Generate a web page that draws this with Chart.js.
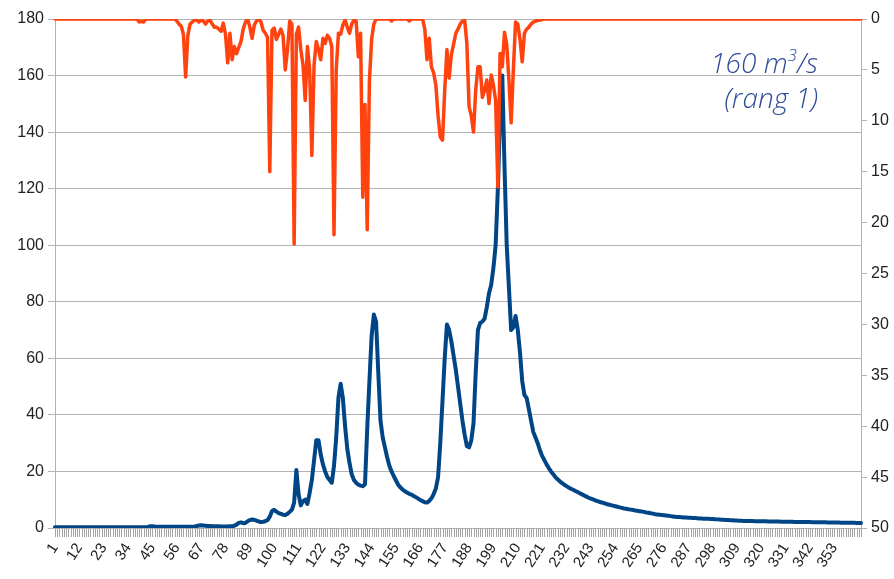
<!DOCTYPE html>
<html>
<head>
<meta charset="utf-8">
<script src="https://cdn.jsdelivr.net/npm/chart.js@4/dist/chart.umd.min.js"></script>
<style>
  html, body { margin: 0; padding: 0; background: #ffffff; }
  #wrap { width: 894px; height: 579px; position: relative; }
</style>
</head>
<body>
<div id="wrap"><canvas id="c" width="894" height="579"></canvas></div>
<script>
// Day numbers (categories) 1..365
const days = Array.from({length: 365}, (_, i) => String(i + 1));

// Shown x tick labels (every 11th day)
const xTickLabels = ['1','12','23','34','45','56','67','78','89','100','111','122','133','144','155','166','177','188','199','210','221','232','243','254','265','276','287','298','309','320','331','342','353'];

// Discharge (m3/s), left axis — one value per day
const discharge = [
  0.3,0.3,0.3,0.3,0.3,0.3,0.3,0.3,0.3,0.3,
  0.3,0.3,0.3,0.3,0.3,0.3,0.3,0.3,0.3,0.3,
  0.3,0.3,0.3,0.3,0.3,0.3,0.3,0.3,0.3,0.3,
  0.3,0.3,0.3,0.3,0.3,0.3,0.3,0.3,0.3,0.3,
  0.3,0.3,0.4,0.6,0.6,0.5,0.4,0.4,0.4,0.4,
  0.4,0.4,0.4,0.4,0.4,0.4,0.4,0.4,0.4,0.4,
  0.4,0.4,0.4,0.5,0.7,0.9,1.0,0.9,0.8,0.7,
  0.7,0.6,0.6,0.6,0.6,0.5,0.5,0.5,0.5,0.6,
  0.6,0.8,1.2,1.8,2.0,1.7,1.8,2.4,2.8,3.0,
  2.9,2.6,2.3,2.1,2.2,2.4,2.8,4.0,6.0,6.4,
  5.8,5.3,5.0,4.7,4.6,5.0,5.7,6.5,9,20.5,
  12,8,9.5,10,8.5,12.4,17,24,31,31,
  26,22.5,20,18,17,16,22,32,46,51,
  46,36,28,23,19,17,16,15.3,15,14.8,
  15.5,35,52,68,75.5,73,55,38,32,28.5,
  25,22,20,18.3,16.8,15.3,14.3,13.6,13,12.5,
  12.1,11.8,11.3,10.9,10.4,9.9,9.5,9.1,9.0,9.6,
  10.5,12,14,18,30,45,60,72,70,66,
  61,56,50,44,38,33,29,28.5,31,37,
  55,70,72.5,73,74,78,83,86,92,100,
  120,145,160,128,100,85,70,71,75,70,
  62,52,47,46,42,38,34,32,30,27.5,
  25.5,24,22.5,21.2,20,19,18,17.2,16.5,15.9,
  15.3,14.8,14.3,13.9,13.5,13.1,12.7,12.3,11.9,11.5,
  11.1,10.7,10.4,10.1,9.8,9.5,9.2,9.0,8.8,8.5,
  8.3,8.1,7.9,7.7,7.5,7.3,7.1,6.9,6.8,6.6,
  6.5,6.4,6.2,6.1,5.9,5.8,5.7,5.5,5.4,5.2,
  5.1,4.9,4.8,4.7,4.6,4.5,4.4,4.3,4.2,4.1,
  4.0,3.9,3.85,3.8,3.75,3.7,3.65,3.6,3.55,3.5,
  3.45,3.4,3.35,3.3,3.27,3.24,3.2,3.15,3.1,3.05,
  3.0,2.95,2.9,2.85,2.8,2.76,2.72,2.68,2.64,2.6,
  2.55,2.5,2.49,2.47,2.46,2.44,2.43,2.41,2.4,2.38,
  2.37,2.35,2.34,2.32,2.31,2.29,2.28,2.26,2.25,2.23,
  2.22,2.2,2.19,2.17,2.16,2.14,2.13,2.11,2.1,2.1,
  2.09,2.08,2.07,2.05,2.04,2.03,2.01,2.0,1.99,1.98,
  1.96,1.95,1.94,1.92,1.91,1.9,1.88,1.87,1.86,1.84,
  1.83,1.82,1.81,1.8,1.8
];

// Precipitation (mm), right reversed axis — one value per day
const precipitation = [
  0,0,0,0,0,0,0,0,0,0,
  0,0,0,0,0,0,0,0,0,0,
  0,0,0,0,0,0,0,0,0,0,
  0,0,0,0,0,0,0,0,0.3,0.2,
  0.3,0,0,0,0,0,0,0,0,0,
  0,0,0,0,0,0.2,0.5,0.7,1.5,5.7,
  1.6,0.5,0.3,0.1,0.1,0.3,0.1,0.2,0.5,0.2,
  0.1,0.5,0.8,0.8,1.0,1.2,0.4,1.5,4.3,1.4,
  4.0,2.7,3.4,2.8,2.2,1.0,0.3,0,0.8,1.9,
  0.6,0.2,0,0.3,1.1,1.4,1.8,15,1.1,0.9,
  2.0,1.5,1.0,1.6,5.0,3.0,0.2,0.5,22.1,1.5,
  0.8,3.0,4.5,8,2.7,5,13.4,4.5,2.2,3,
  4.0,1.9,2.4,1.6,1.9,2.7,21.2,5,1.4,1.5,
  0.6,0.1,0.8,1.4,0.5,0.1,0.2,3.7,1.4,17.5,
  8.4,20.7,6,2.0,0.5,0,0,0,0,0,
  0,0,0.2,0,0,0,0,0,0,0,
  0.2,0,0,0,0,0,0,1.0,4.0,1.9,
  4.7,5.3,6.5,9.5,11.6,11.9,7,3.0,5.8,3.5,
  2.5,1.4,1.0,0.5,0.2,0.1,2.4,8.6,9.5,11.1,
  7,4.7,4.7,7.7,7.0,6.0,8.3,5.5,6.5,8.0,
  16.5,3.4,4.7,1.3,2.5,6,10.2,5,0.3,0.5,
  2.0,4.2,1.4,1.0,0.8,0.5,0.3,0.2,0.15,0.1,
  0.05,0,0,0,0,0,0,0,0,0,
  0,0,0,0,0,0,0,0,0,0,
  0,0,0,0,0,0,0,0,0,0,
  0,0,0,0,0,0,0,0,0,0,
  0,0,0,0,0,0,0,0,0,0,
  0,0,0,0,0,0,0,0,0,0,
  0,0,0,0,0,0,0,0,0,0,
  0,0,0,0,0,0,0,0,0,0,
  0,0,0,0,0,0,0,0,0,0,
  0,0,0,0,0,0,0,0,0,0,
  0,0,0,0,0,0,0,0,0,0,
  0,0,0,0,0,0,0,0,0,0,
  0,0,0,0,0,0,0,0,0,0,
  0,0,0,0,0,0,0,0,0,0,
  0,0,0,0,0
];

// Annotation text pieces
const noteMain = '160 m';
const noteSup = '3';
const noteUnit = '/s';
const noteLine2 = '(rang 1)';

const FONT = '"Liberation Sans", Arial, sans-serif';
const GRID = '#b3b3b3';

// Dense per-category tick marks under the x axis (one per day, from the library's scale)
const hatchPlugin = {
  id: 'hatch',
  afterDraw(chart) {
    const xs = chart.scales.x;
    const ctx = chart.ctx;
    const y0 = chart.chartArea.bottom;
    ctx.save();
    ctx.strokeStyle = '#a6a6a6';
    ctx.lineWidth = 1;
    ctx.beginPath();
    for (let i = 0; i < days.length; i++) {
      const x = Math.round(xs.getPixelForValue(i)) + 0.5;
      ctx.moveTo(x, y0);
      ctx.lineTo(x, y0 + 9);
    }
    ctx.stroke();
    ctx.restore();
  }
};

const notePlugin = {
  id: 'note',
  afterDraw(chart) {
    const ctx = chart.ctx;
    ctx.save();
    ctx.fillStyle = '#2f4c9c';
    ctx.textBaseline = 'alphabetic';
    const big = 'italic 300 28px "Open Sans", sans-serif';
    const small = 'italic 300 17px "Open Sans", sans-serif';
    const right = 818;
    ctx.font = big;
    const wUnit = ctx.measureText(noteUnit).width;
    const wMain = ctx.measureText(noteMain).width;
    ctx.font = small;
    const wSup = ctx.measureText(noteSup).width;
    const x = right - wUnit - wSup - wMain;
    ctx.textAlign = 'left';
    ctx.font = big;
    ctx.fillText(noteMain, x, 73);
    ctx.font = small;
    ctx.fillText(noteSup, x + wMain, 61);
    ctx.font = big;
    ctx.fillText(noteUnit, x + wMain + wSup, 73);
    ctx.textAlign = 'right';
    ctx.fillText(noteLine2, right, 108);
    ctx.restore();
  }
};

new Chart(document.getElementById('c'), {
  type: 'line',
  data: {
    labels: days,
    datasets: [
      {
        label: 'Précipitations',
        data: precipitation,
        yAxisID: 'y1',
        borderColor: '#ff420e',
        borderWidth: 3.5,
        pointRadius: 0,
        tension: 0,
        borderJoinStyle: 'round',
        borderCapStyle: 'round',
        order: 0
      },
      {
        label: 'Débit',
        data: discharge,
        yAxisID: 'y',
        borderColor: '#004586',
        borderWidth: 4,
        pointRadius: 0,
        tension: 0,
        borderJoinStyle: 'round',
        borderCapStyle: 'round',
        order: 1
      }
    ]
  },
  options: {
    responsive: false,
    animation: false,
    events: [],
    layout: { padding: { top: 19, left: 0, right: 0, bottom: 0 } },
    plugins: { legend: { display: false }, tooltip: { enabled: false } },
    scales: {
      x: {
        type: 'category',
        offset: false,
        grid: { display: true, drawOnChartArea: false, drawTicks: true, tickLength: 10, color: 'rgba(0,0,0,0)' },
        border: { display: true, color: GRID },
        ticks: {
          autoSkip: false,
          maxRotation: 57,
          minRotation: 57,
          padding: 2,
          color: '#222',
          font: { family: FONT, size: 15 },
          callback: (v, i) => (i % 11 === 0 ? xTickLabels[i / 11] : '')
        },
        afterFit: s => { s.height = 51; }
      },
      y: {
        position: 'left',
        min: 0, max: 180,
        ticks: { stepSize: 20, color: '#222', font: { family: FONT, size: 16 }, padding: 4 },
        grid: { color: GRID, tickLength: 7, lineWidth: 1 },
        border: { display: true, color: GRID },
        afterFit: s => { s.width = 55; }
      },
      y1: {
        position: 'right',
        reverse: true,
        min: 0, max: 50,
        ticks: { stepSize: 5, color: '#222', font: { family: FONT, size: 16 }, padding: 4 },
        grid: { drawOnChartArea: false, color: GRID, tickLength: 6 },
        border: { display: true, color: GRID },
        afterFit: s => { s.width = 33; }
      }
    }
  },
  plugins: [hatchPlugin, notePlugin]
});
</script>
</body>
</html>
